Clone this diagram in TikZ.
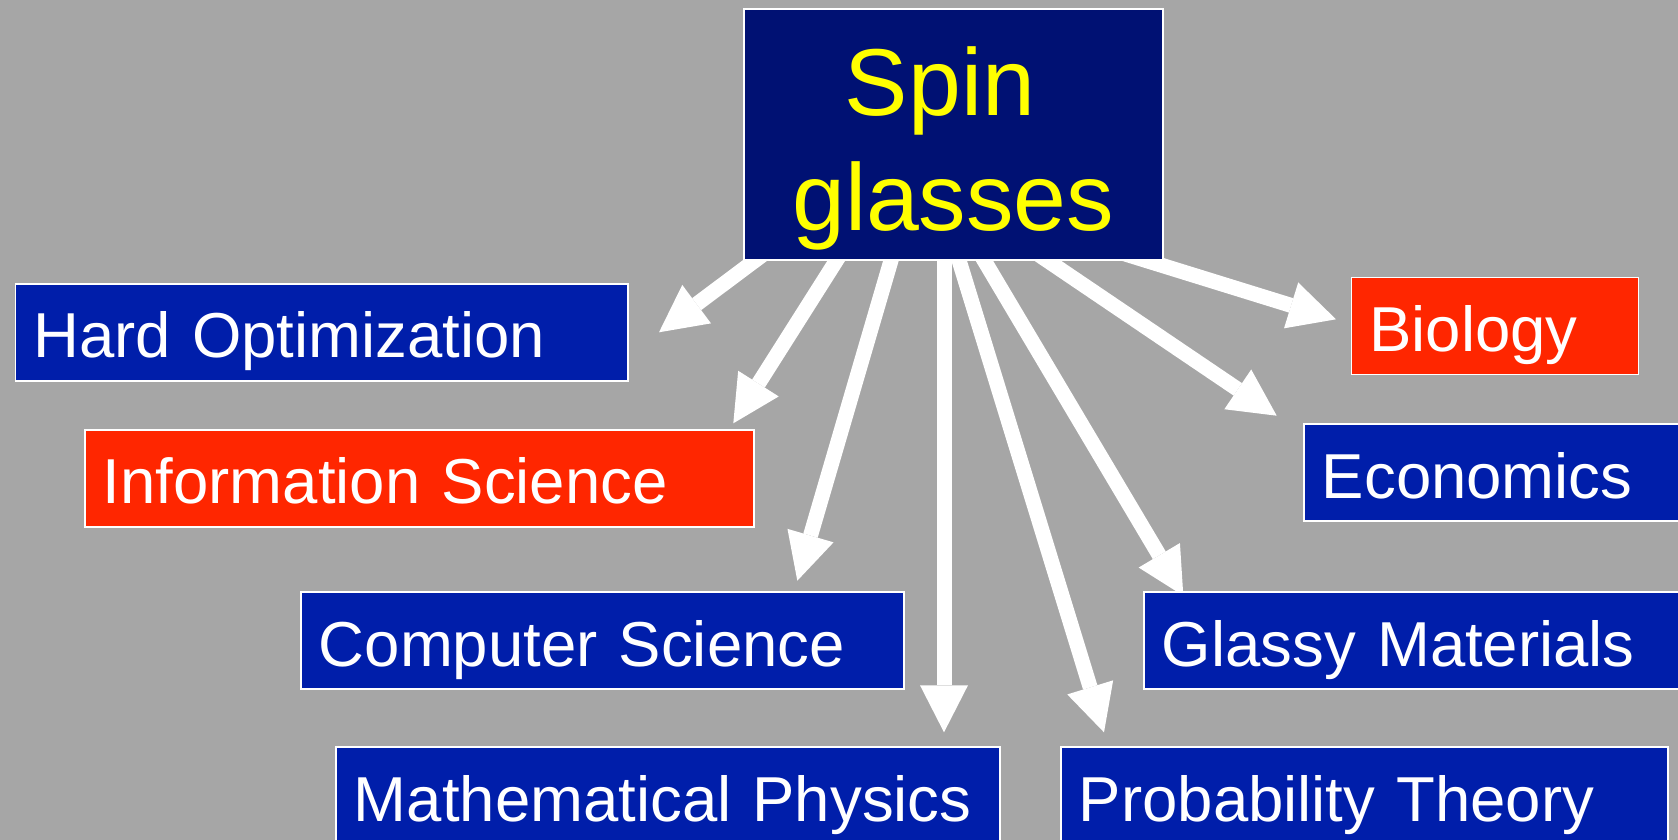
\documentclass[tikz,border=0pt]{standalone}
\usepackage{fontspec}
\setmainfont{Liberation Sans}
\usetikzlibrary{arrows.meta}
\definecolor{bggray}{RGB}{166,166,166}
\definecolor{boxblue}{RGB}{0,30,170}
\definecolor{boxnavy}{RGB}{0,17,115}
\definecolor{boxred}{RGB}{255,38,0}
\definecolor{spinyellow}{RGB}{255,255,0}
\begin{document}
\begin{tikzpicture}[x=1pt,y=-1pt,
  topic/.style={draw=white, line width=1.8pt, anchor=west, minimum height=97pt,
    inner ysep=0pt, inner xsep=18pt, text=white, align=left,
    font=\fontsize{63.5}{76}\selectfont, text height=51pt, text depth=0pt},
  bluebox/.style={topic, fill=boxblue},
  redbox/.style={topic, fill=boxred},
  spinbox/.style={draw=white, line width=1.8pt, fill=boxnavy, text=spinyellow,
    minimum width=418.6pt, minimum height=251pt, inner sep=0pt, align=center,
    font=\fontsize{95}{115}\selectfont, text height=211pt, text depth=20pt},
  link/.style={draw=white, line width=15pt,
    -{Triangle[length=47pt,width=48pt,line width=0pt]}}
]
\useasboundingbox (0,0) rectangle (1678,840);
\fill[bggray] (0,0) rectangle (1678,840);

% arrow start points (hidden behind the central box) and tips
\coordinate (s1) at (782.4,240);  \coordinate (t1) at (659,332.3);
\coordinate (s2) at (849.4,240);  \coordinate (t2) at (733.3,423.3);
\coordinate (s3) at (897,240);    \coordinate (t3) at (797.3,580.7);
\coordinate (s4) at (944,240);    \coordinate (t4) at (944,732.3);
\coordinate (s5) at (952.8,240);  \coordinate (t5) at (1104,732.3);
\coordinate (s6) at (972,240);    \coordinate (t6) at (1183.3,595.7);
\coordinate (s7) at (1017,240);   \coordinate (t7) at (1276.7,415.7);
\coordinate (s8) at (1080,240);   \coordinate (t8) at (1336,319.3);

\foreach \i in {1,...,8} {\draw[link] (s\i) -- (t\i);}

\node[spinbox] (spin) at (953.3,134.5) {Spin\rule{0.28em}{0pt}\\glasses};

\node[bluebox, text width=576.5pt] (ho)  at (14.5,332.35) {Hard Optimization};
\node[redbox,  text width=633pt]   (is)  at (84,478.35)   {Information Science};
\node[bluebox, text width=567pt]   (cs)  at (300,640.5)   {Computer Science};
\node[bluebox, text width=628pt]   (mp)  at (335,795.5)   {Mathematical Physics};
\node[bluebox, text width=571pt]   (pt)  at (1060,795.5)  {Probability Theory};
\node[bluebox, text width=541pt]   (gm)  at (1143,640.5)  {Glassy Materials};
\node[bluebox, text width=381pt]   (eco) at (1303,472.5)  {Economics};
\node[redbox,  text width=251pt]   (bio) at (1350.6,326)  {Biology};
\end{tikzpicture}
\end{document}
